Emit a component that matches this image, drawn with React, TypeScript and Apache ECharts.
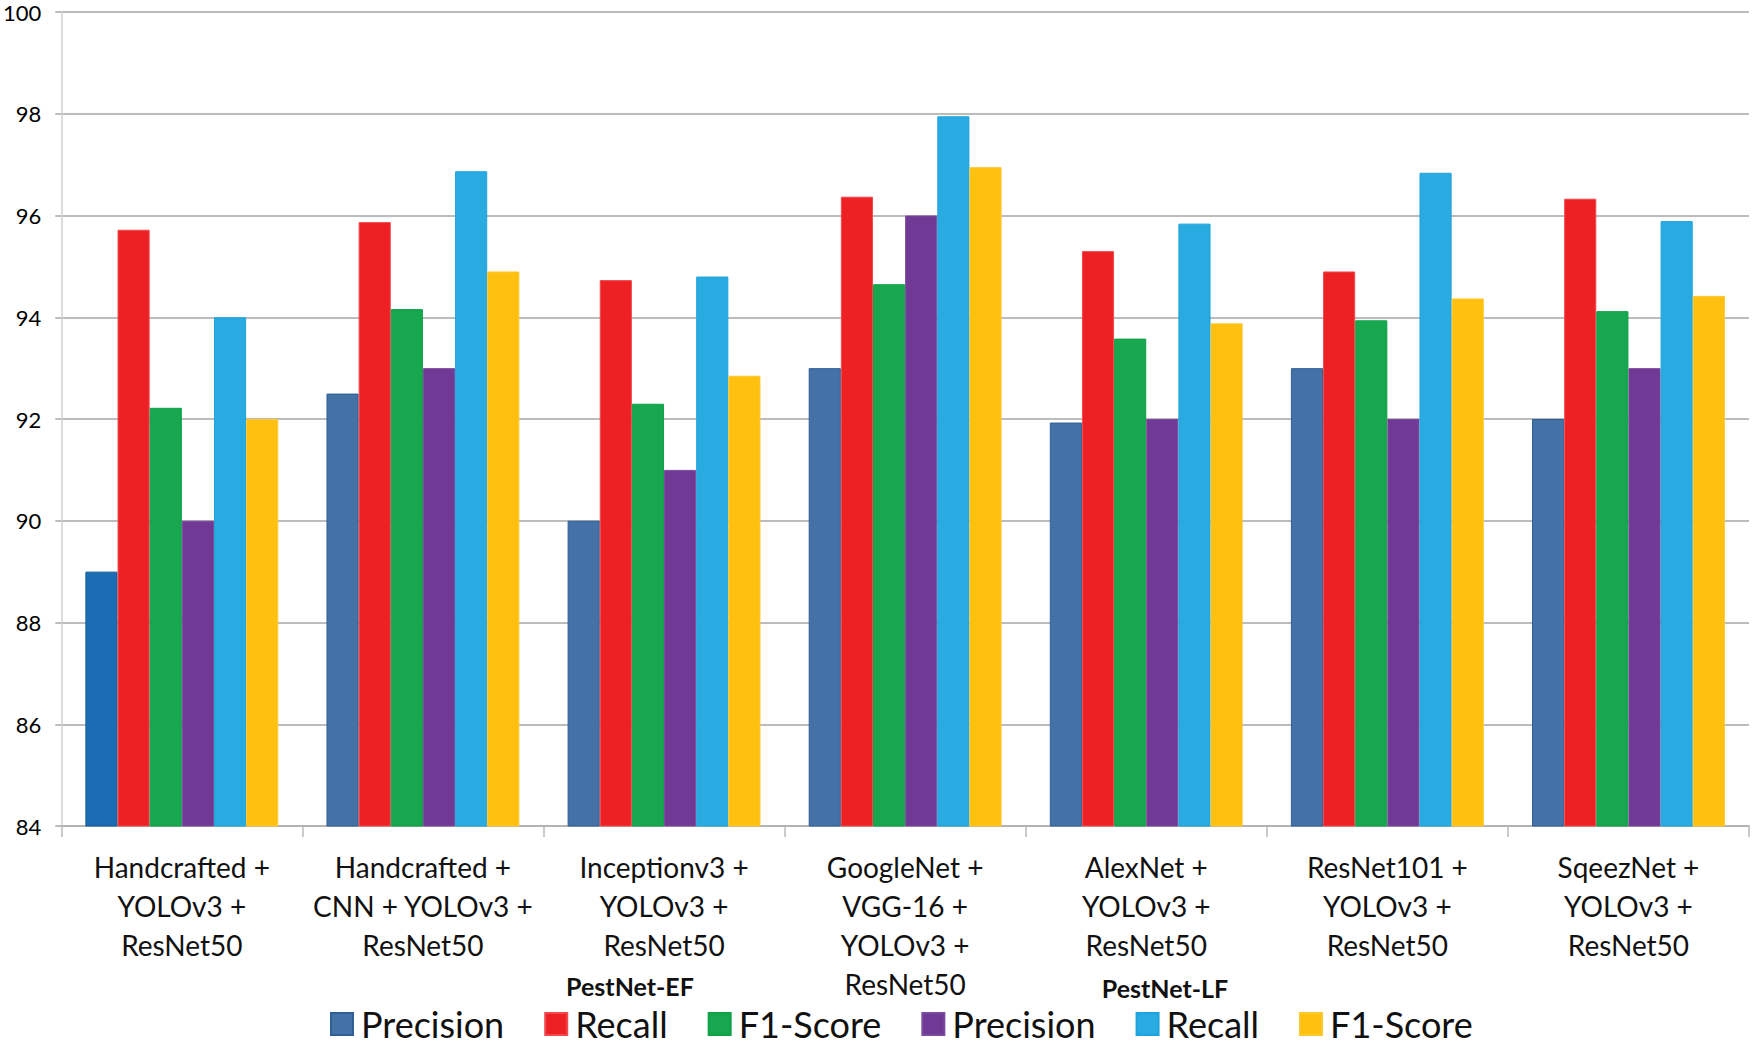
import React, { useEffect, useRef } from "react";
import * as echarts from "echarts";

const categories = [
  "Handcrafted +\nYOLOv3 +\nResNet50",
  "Handcrafted +\nCNN + YOLOv3 +\nResNet50",
  "Inceptionv3 +\nYOLOv3 +\nResNet50",
  "GoogleNet +\nVGG-16 +\nYOLOv3 +\nResNet50",
  "AlexNet +\nYOLOv3 +\nResNet50",
  "ResNet101 +\nYOLOv3 +\nResNet50",
  "SqeezNet +\nYOLOv3 +\nResNet50",
];

const efPrecision = [89, 92.5, 90, 93, 91.93, 93, 92];
const efRecall = [95.72, 95.87, 94.73, 96.37, 95.3, 94.9, 96.33];
const efF1 = [92.22, 94.16, 92.3, 94.65, 93.58, 93.94, 94.12];
const lfPrecision = [90, 93, 91, 96, 92, 92, 93];
const lfRecall = [94, 96.87, 94.8, 97.95, 95.84, 96.84, 95.89];
const lfF1 = [92, 94.9, 92.85, 96.95, 93.88, 94.37, 94.42];

const groupLabels = ["PestNet-EF", "PestNet-LF"];

const FONT = "Lato, 'Noto Sans', sans-serif";

export default function App() {
  const ref = useRef<HTMLDivElement>(null);

  useEffect(() => {
    if (!ref.current) return;
    const chart = echarts.init(ref.current, undefined, { renderer: "svg" });

    const mk = (name: string, data: number[], color: string, border: string, first?: string) => ({
      name,
      type: "bar",
      data: data.map((v, i) =>
        i === 0 && first ? { value: v, itemStyle: { color: first, borderColor: "#125a9a" } } : v
      ),
      barGap: "0%",
      barCategoryGap: "20%",
      itemStyle: { color, borderColor: border, borderWidth: 1 },
    });

    chart.setOption({
      animation: false,
      backgroundColor: "#ffffff",
      textStyle: { fontFamily: FONT },
      grid: { left: 59, right: 6, top: 12, bottom: 221, containLabel: false },
      legend: {
        left: 330,
        top: 1006,
        padding: 0,
        itemWidth: 22,
        itemHeight: 22,
        itemGap: 40,
        icon: "rect",
        formatter: (n: string) => n.replace(/ (EF|LF)$/, ""),
        textStyle: { fontSize: 36, lineHeight: 34, color: "#111", fontFamily: FONT, padding: [0, 0, 0, 3] },
        data: ["Precision EF", "Recall EF", "F1-Score EF", "Precision LF", "Recall LF", "F1-Score LF"],
      },
      xAxis: {
        type: "category",
        data: categories,
        axisLine: { show: true, lineStyle: { color: "#b0b0b0", width: 1.5 } },
        axisTick: { show: true, length: 11, lineStyle: { color: "#b8b8b8", width: 1.5 } },
        axisLabel: {
          interval: 0,
          fontSize: 28,
          lineHeight: 39,
          margin: 21,
          color: "#111",
          fontFamily: FONT,
        },
      },
      yAxis: {
        type: "value",
        min: 84,
        max: 100,
        interval: 2,
        axisLine: { show: true, lineStyle: { color: "#d0d0d0", width: 1.5 } },
        axisTick: { show: true, length: 6, lineStyle: { color: "#a6a6a6", width: 1.5 } },
        axisLabel: { fontSize: 22, lineHeight: 20, color: "#000", margin: 20, fontFamily: FONT },
        splitLine: { show: true, lineStyle: { color: "#a6a6a6", width: 1.5 } },
      },
      graphic: [
        {
          type: "text",
          x: 630,
          y: 986,
          style: {
            text: groupLabels[0],
            fontSize: 25,
            lineHeight: 26,
            fontWeight: "bold",
            fontFamily: FONT,
            fill: "#111",
            align: "center",
            verticalAlign: "middle",
          },
        },
        {
          type: "text",
          x: 1165,
          y: 988,
          style: {
            text: groupLabels[1],
            fontSize: 25,
            lineHeight: 26,
            fontWeight: "bold",
            fontFamily: FONT,
            fill: "#111",
            align: "center",
            verticalAlign: "middle",
          },
        },
      ],
      series: [
        mk("Precision EF", efPrecision, "#4472a6", "#2f5f98", "#1a6db5"),
        mk("Recall EF", efRecall, "#ed2024", "#f04a4d"),
        mk("F1-Score EF", efF1, "#17a84f", "#10a048"),
        mk("Precision LF", lfPrecision, "#6f3995", "#7a4a9e"),
        mk("Recall LF", lfRecall, "#29abe2", "#1fa3dc"),
        mk("F1-Score LF", lfF1, "#ffc010", "#ffc830"),
      ],
    });

    return () => chart.dispose();
  }, []);

  return (
    <div
      ref={ref}
      style={{ position: "absolute", left: 0, top: 0, width: 1755, height: 1047 }}
    />
  );
}
